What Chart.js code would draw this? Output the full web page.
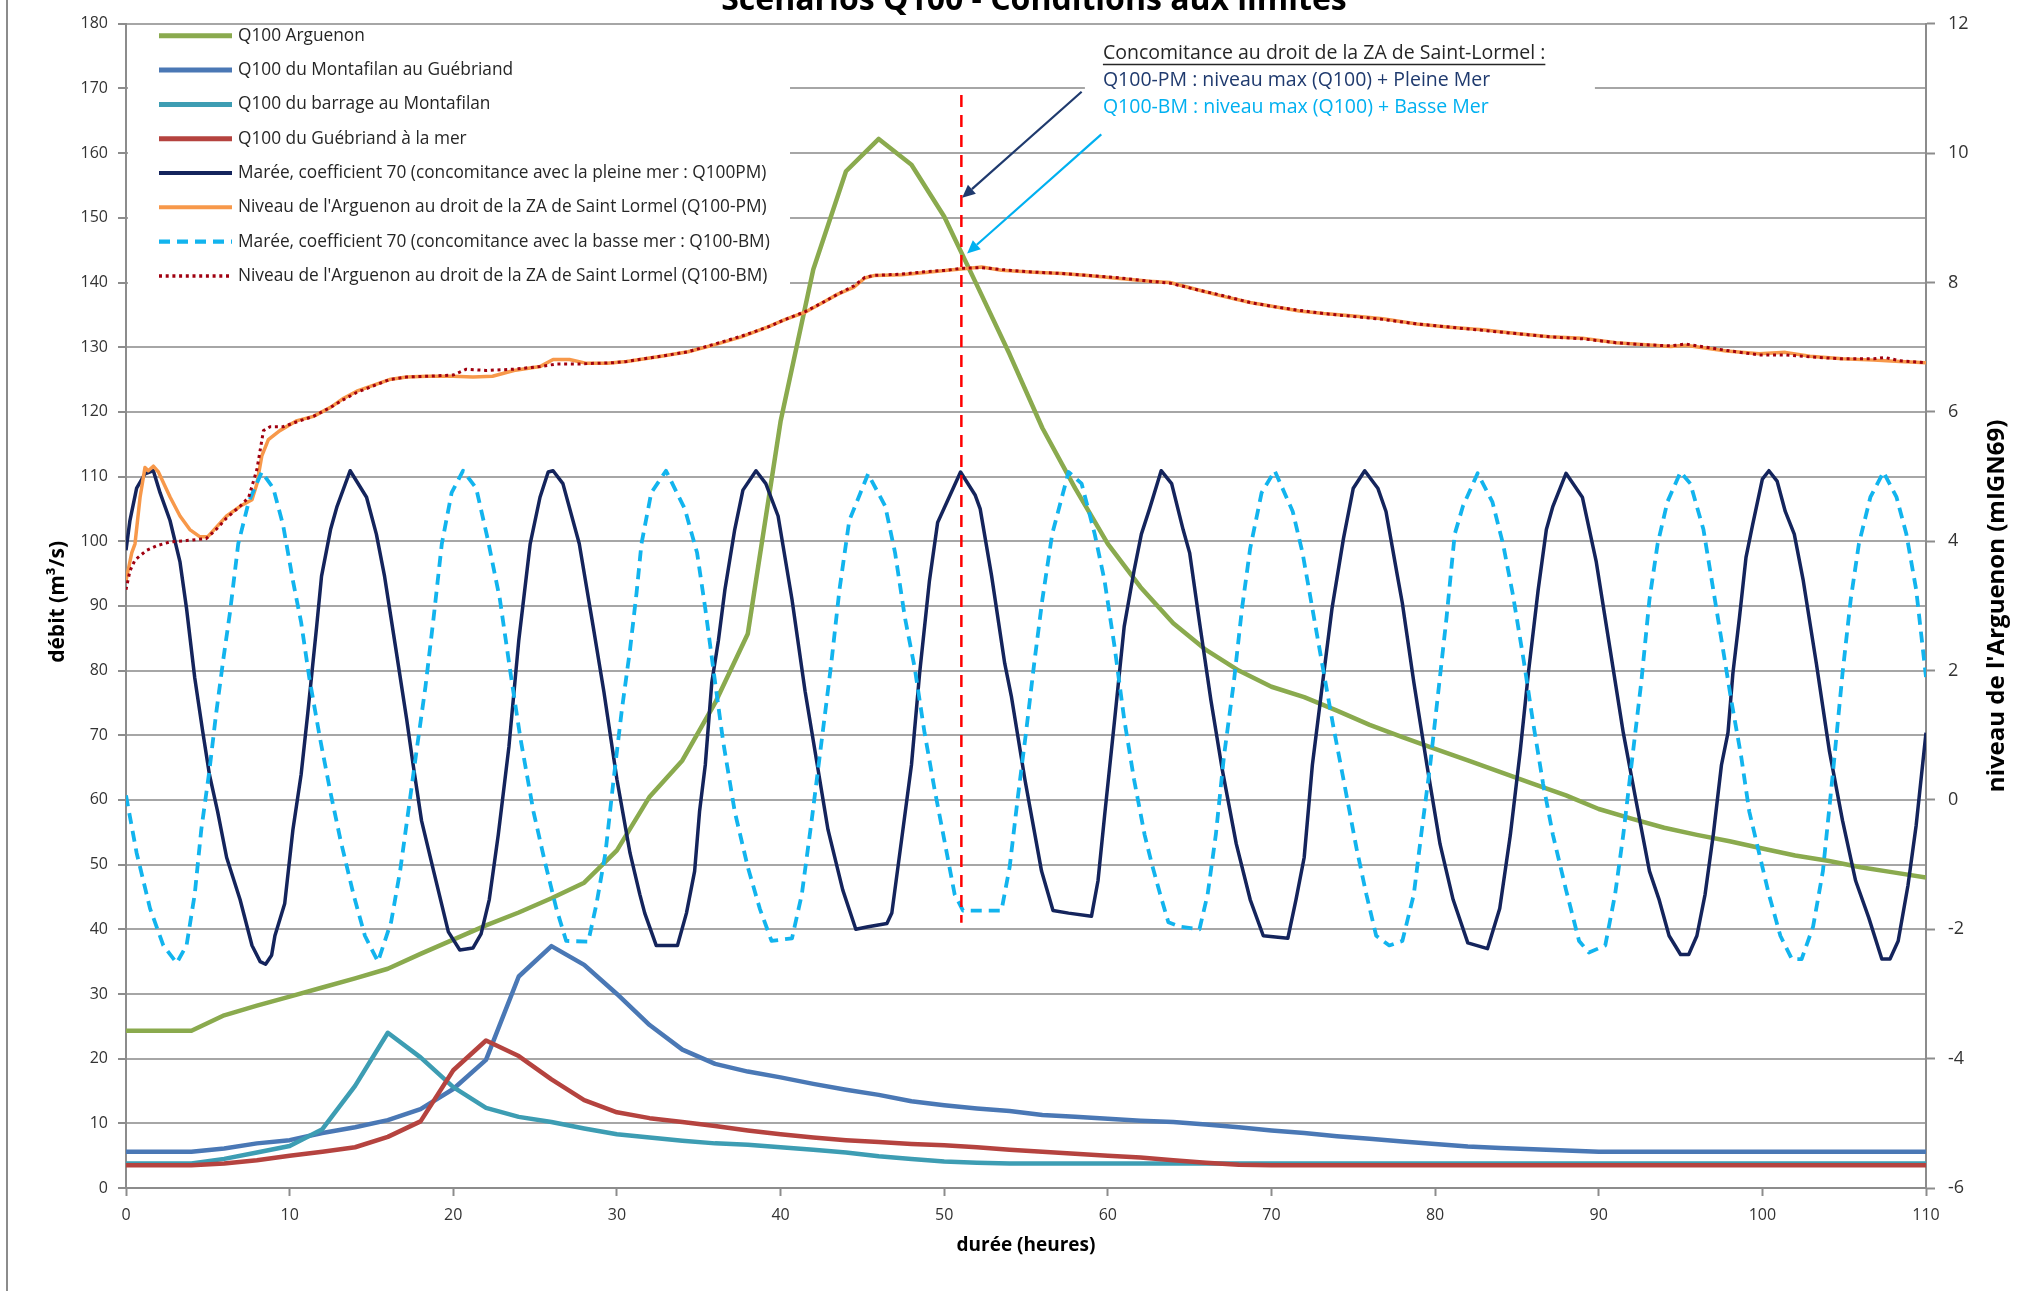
<!DOCTYPE html>
<html>
<head>
<meta charset="utf-8">
<script src="https://cdn.jsdelivr.net/npm/chart.js@4.4.1/dist/chart.umd.min.js"></script>
<style>
html,body{margin:0;padding:0;background:#fff;}
#wrap{width:2040px;height:1291px;position:relative;}
canvas{display:block;}
</style>
</head>
<body>
<div id="wrap"><canvas id="c" width="2040" height="1291"></canvas></div>
<script>
// ---------- texts ----------
const chartTitle = "Scénarios Q100 - Conditions aux limites";
const xTitle = "durée (heures)";
const yTitle = "débit (m³/s)";
const y2Title = "niveau de l'Arguenon (mIGN69)";
const annotLines = [
  "Concomitance au droit de la ZA de Saint-Lormel :",
  "Q100-PM : niveau max (Q100) + Pleine Mer",
  "Q100-BM : niveau max (Q100) + Basse Mer"
];
const seriesNames = [
  "Q100 Arguenon",
  "Q100 du Montafilan au Guébriand",
  "Q100 du barrage au Montafilan",
  "Q100 du Guébriand à la mer",
  "Marée, coefficient 70 (concomitance avec la pleine mer : Q100PM)",
  "Niveau de l'Arguenon au droit de la ZA de Saint Lormel (Q100-PM)",
  "Marée, coefficient 70 (concomitance avec la basse mer : Q100-BM)",
  "Niveau de l'Arguenon au droit de la ZA de Saint Lormel (Q100-BM)"
];

// ---------- ticks ----------
const xTickValues = [0,10,20,30,40,50,60,70,80,90,100,110];
const yTickValues = [0,10,20,30,40,50,60,70,80,90,100,110,120,130,140,150,160,170,180];
const y2TickValues = [-6,-4,-2,0,2,4,6,8,10,12];

// ---------- discharge series (left axis), every 2 h ----------
const hours = [0,2,4,6,8,10,12,14,16,18,20,22,24,26,28,30,32,34,36,38,40,42,44,46,48,50,52,54,56,58,60,62,64,66,68,70,72,74,76,78,80,82,84,86,88,90,92,94,96,98,100,102,104,106,108,110];
const qArguenon = [24.3,24.3,24.3,26.7,28.2,29.6,31.0,32.4,33.9,36.2,38.4,40.6,42.6,44.8,47.2,52.2,60.5,66.1,75.0,85.7,118.5,142.0,157.2,162.2,158.2,150.2,139.6,128.9,117.5,108.2,99.6,92.9,87.3,83.2,80.0,77.5,75.9,73.8,71.6,69.7,67.9,66.1,64.3,62.5,60.7,58.6,57.1,55.7,54.6,53.6,52.5,51.4,50.6,49.6,48.8,48.0];
const qMontafilan = [5.6,5.6,5.6,6.1,6.9,7.4,8.5,9.4,10.5,12.2,15.3,19.8,32.7,37.4,34.5,30.0,25.2,21.4,19.2,18.0,17.1,16.1,15.2,14.4,13.4,12.8,12.3,11.9,11.3,11.0,10.7,10.4,10.2,9.8,9.4,8.9,8.5,8.0,7.6,7.2,6.8,6.4,6.2,6.0,5.8,5.6,5.6,5.6,5.6,5.6,5.6,5.6,5.6,5.6,5.6,5.6];
const qBarrage = [3.8,3.8,3.8,4.5,5.5,6.5,9.1,15.8,24.0,20.2,15.6,12.4,11.0,10.2,9.2,8.3,7.8,7.3,6.9,6.7,6.3,5.9,5.5,4.9,4.5,4.1,3.9,3.8,3.8,3.8,3.8,3.8,3.8,3.8,3.8,3.8,3.8,3.8,3.8,3.8,3.8,3.8,3.8,3.8,3.8,3.8,3.8,3.8,3.8,3.8,3.8,3.8,3.8,3.8,3.8,3.8];
const qGuebriand = [3.5,3.5,3.5,3.8,4.3,5.0,5.6,6.3,7.9,10.3,18.2,22.8,20.4,16.8,13.6,11.7,10.8,10.2,9.6,8.9,8.3,7.8,7.4,7.1,6.8,6.6,6.3,5.9,5.6,5.3,5.0,4.7,4.3,3.9,3.6,3.5,3.5,3.5,3.5,3.5,3.5,3.5,3.5,3.5,3.5,3.5,3.5,3.5,3.5,3.5,3.5,3.5,3.5,3.5,3.5,3.5];

// ---------- levels (right axis), [hour, m IGN69] ----------
const tidePM = [[0,3.86],[0.24,4.32],[0.65,4.82],[1.16,5.04],[1.67,5.09],[2.08,4.75],[2.69,4.32],[3.3,3.68],[3.7,2.96],[4.2,1.89],[4.7,1.04],[5.1,0.39],[5.6,-0.18],[6.15,-0.89],[6.97,-1.54],[7.7,-2.25],[8.2,-2.5],[8.53,-2.54],[8.9,-2.4],[9.1,-2.1],[9.7,-1.6],[10.2,-0.46],[10.7,0.39],[11.1,1.32],[11.65,2.68],[11.95,3.46],[12.5,4.18],[12.9,4.54],[13.7,5.09],[14.7,4.68],[15.3,4.11],[15.8,3.46],[16.5,2.32],[17.15,1.25],[17.55,0.54],[18.06,-0.32],[18.8,-1.1],[19.7,-2.04],[20.4,-2.32],[21.2,-2.29],[21.7,-2.07],[22.2,-1.54],[22.75,-0.54],[23.4,0.82],[24.0,2.46],[24.7,3.96],[25.3,4.68],[25.8,5.07],[26.1,5.09],[26.7,4.89],[27.7,3.96],[28.55,2.68],[29.2,1.68],[30.0,0.32],[30.8,-0.82],[31.4,-1.46],[31.7,-1.75],[32.4,-2.25],[33.7,-2.25],[34.25,-1.75],[34.75,-1.1],[35.05,-0.18],[35.4,0.54],[35.8,1.82],[36.2,2.46],[36.6,3.25],[37.2,4.18],[37.7,4.79],[38.5,5.09],[39.1,4.89],[39.85,4.39],[40.7,3.1],[41.5,1.68],[42.3,0.46],[42.9,-0.46],[43.8,-1.39],[44.6,-2.0],[45.35,-1.96],[46.5,-1.91],[46.8,-1.75],[47.4,-0.61],[48.0,0.54],[48.5,1.96],[49.1,3.39],[49.6,4.29],[50.3,4.68],[51.0,5.07],[51.9,4.71],[52.2,4.5],[52.9,3.46],[53.7,2.11],[54.1,1.61],[54.93,0.32],[55.95,-1.1],[56.65,-1.71],[57.6,-1.75],[59.0,-1.8],[59.4,-1.25],[59.8,-0.25],[60.42,1.25],[61.0,2.68],[61.6,3.54],[62.05,4.11],[62.55,4.5],[63.26,5.09],[63.9,4.89],[64.6,4.18],[65.0,3.82],[65.6,2.75],[66.3,1.54],[67.0,0.46],[67.85,-0.68],[68.7,-1.54],[69.5,-2.1],[71.0,-2.14],[71.5,-1.54],[72.0,-0.89],[72.5,0.54],[73.2,1.96],[73.7,2.96],[74.4,4.04],[75.0,4.82],[75.7,5.09],[76.5,4.82],[77.0,4.46],[77.7,3.46],[78.0,3.04],[78.7,1.82],[79.5,0.54],[80.3,-0.68],[81.1,-1.54],[82.0,-2.21],[83.2,-2.3],[83.95,-1.68],[84.6,-0.54],[85.2,0.75],[85.7,1.96],[86.3,3.25],[86.8,4.18],[87.2,4.54],[88.0,5.05],[89.0,4.68],[89.85,3.68],[90.7,2.32],[91.5,1.04],[92.3,-0.04],[93.1,-1.1],[93.7,-1.55],[94.3,-2.1],[95.0,-2.39],[95.5,-2.39],[96.0,-2.1],[96.5,-1.46],[97.0,-0.54],[97.5,0.54],[97.9,1.04],[98.2,1.96],[98.6,2.82],[99.0,3.75],[99.4,4.25],[100.0,4.96],[100.4,5.09],[100.9,4.93],[101.4,4.46],[101.95,4.11],[102.5,3.39],[103.3,2.11],[104.1,0.75],[104.9,-0.32],[105.7,-1.25],[106.5,-1.82],[107.3,-2.46],[107.8,-2.46],[108.3,-2.18],[108.9,-1.32],[109.4,-0.39],[110,1.04]];

const tideBM = [[0,0.07],[0.65,-0.82],[1.47,-1.68],[2.28,-2.25],[3.1,-2.52],[3.7,-2.25],[4.2,-1.46],[4.6,-0.46],[5.1,0.46],[5.5,1.32],[5.95,2.18],[6.35,2.89],[6.86,3.96],[7.5,4.61],[8.3,5.07],[9.0,4.82],[9.6,4.25],[10.2,3.39],[10.7,2.75],[11.2,1.89],[11.85,0.96],[12.5,0.11],[13.1,-0.61],[13.9,-1.46],[14.6,-2.1],[15.4,-2.5],[16.2,-1.89],[16.75,-1.1],[17.25,-0.18],[17.75,0.75],[18.3,1.75],[18.8,2.82],[19.3,3.96],[19.9,4.75],[20.6,5.09],[21.4,4.82],[22.1,4.04],[22.85,3.1],[23.5,1.96],[24.1,0.96],[24.9,-0.18],[25.6,-0.96],[26.3,-1.68],[26.9,-2.18],[28.25,-2.19],[28.75,-1.61],[29.3,-0.82],[29.8,0.32],[30.3,1.39],[30.8,2.32],[31.2,3.2],[31.5,3.96],[32.1,4.75],[33.0,5.09],[34.15,4.5],[34.9,3.82],[35.4,2.96],[36.0,1.82],[36.5,0.89],[37.2,-0.18],[38.0,-1.04],[38.73,-1.68],[39.45,-2.18],[40.7,-2.14],[41.3,-1.46],[41.9,-0.32],[42.5,0.89],[43.1,2.11],[43.6,3.25],[44.2,4.32],[45.35,5.04],[46.4,4.54],[47.0,3.82],[47.6,2.82],[48.2,2.04],[48.8,1.04],[49.4,0.18],[50.0,-0.61],[50.64,-1.46],[51.15,-1.71],[53.5,-1.71],[54.0,-1.04],[54.5,0.04],[55.0,1.04],[55.5,2.11],[56.0,3.1],[56.6,4.11],[57.6,5.07],[58.4,4.89],[59.2,4.11],[59.8,3.39],[60.4,2.39],[61.0,1.25],[61.6,0.32],[62.25,-0.54],[62.7,-1.0],[63.2,-1.46],[63.7,-1.89],[64.4,-1.96],[65.6,-2.0],[66.1,-1.46],[66.6,-0.54],[67.1,0.68],[67.7,1.82],[68.2,2.96],[68.7,3.89],[69.4,4.75],[70.2,5.09],[71.3,4.46],[71.9,3.82],[72.5,2.96],[73.2,1.96],[73.8,1.11],[74.4,0.32],[75.2,-0.75],[75.8,-1.46],[76.4,-2.1],[77.2,-2.25],[78.0,-2.18],[78.7,-1.46],[79.15,-0.54],[79.7,0.54],[80.2,1.68],[80.7,2.82],[81.2,4.11],[81.7,4.54],[82.6,5.05],[83.5,4.61],[84.15,3.96],[84.75,3.18],[85.4,2.18],[86.0,1.18],[86.6,0.25],[87.2,-0.54],[88.0,-1.39],[88.8,-2.18],[89.4,-2.36],[90.4,-2.25],[91.0,-1.46],[91.5,-0.54],[92.0,0.54],[92.6,1.82],[93.1,3.1],[93.6,3.96],[94.2,4.61],[95.0,5.07],[95.6,4.89],[96.4,4.18],[97.0,3.25],[97.6,2.32],[98.1,1.54],[98.7,0.68],[99.2,-0.18],[99.8,-0.82],[100.4,-1.46],[101.1,-2.1],[101.8,-2.46],[102.4,-2.46],[103.1,-1.96],[103.7,-1.1],[104.3,0.39],[104.9,1.96],[105.4,3.1],[105.9,3.96],[106.6,4.68],[107.4,5.07],[108.2,4.68],[108.8,4.11],[109.4,3.25],[110,1.9]];

const levelPM = [[0,3.39],[0.35,3.82],[0.55,3.96],[0.86,4.68],[1.16,5.14],[1.36,5.09],[1.67,5.16],[1.98,5.07],[2.7,4.68],[3.3,4.39],[3.9,4.18],[4.5,4.07],[5.0,4.07],[5.5,4.21],[6.15,4.39],[6.97,4.54],[7.7,4.64],[8.0,4.89],[8.3,5.32],[8.7,5.57],[9.4,5.71],[10.4,5.86],[11.45,5.93],[12.5,6.07],[13.3,6.21],[14.1,6.32],[15.1,6.41],[16.1,6.5],[17.15,6.54],[18.4,6.55],[20.0,6.55],[21.2,6.54],[22.4,6.55],[23.7,6.64],[25.3,6.7],[26.1,6.81],[27.1,6.81],[28.15,6.75],[29.4,6.75],[30.6,6.78],[32.7,6.86],[34.35,6.93],[36.0,7.04],[37.6,7.16],[39.2,7.31],[40.3,7.43],[41.5,7.54],[42.5,7.68],[43.5,7.82],[44.5,7.93],[45.15,8.07],[45.75,8.11],[47.4,8.12],[49.0,8.16],[50.2,8.19],[51.05,8.21],[52.3,8.24],[53.5,8.19],[55.5,8.16],[57.2,8.14],[58.8,8.11],[60.4,8.07],[62.55,8.02],[63.8,8.0],[65.6,7.88],[67.0,7.79],[68.7,7.69],[70.3,7.62],[71.7,7.56],[73.2,7.52],[75.2,7.48],[76.8,7.44],[78.9,7.36],[80.9,7.31],[82.9,7.27],[84.95,7.21],[87.0,7.16],[89.0,7.14],[91.05,7.07],[92.65,7.04],[94.4,7.01],[95.3,7.03],[97.8,6.94],[99.8,6.9],[101.4,6.92],[102.9,6.86],[104.9,6.82],[106.8,6.8],[108.4,6.78],[110,6.76]];

const levelBM = [[0,3.25],[0.24,3.54],[0.55,3.71],[1.26,3.86],[1.87,3.93],[2.7,3.99],[3.7,4.01],[4.9,4.04],[5.5,4.18],[6.15,4.36],[6.97,4.54],[7.5,4.68],[8.0,5.11],[8.4,5.71],[8.8,5.77],[9.6,5.77],[10.6,5.86],[11.45,5.93],[12.5,6.07],[13.3,6.19],[14.1,6.3],[15.1,6.4],[16.1,6.5],[17.15,6.54],[18.4,6.55],[20.0,6.57],[20.8,6.66],[22.0,6.64],[23.7,6.66],[25.3,6.7],[26.3,6.74],[27.6,6.74],[28.6,6.75],[29.8,6.76],[30.6,6.78],[32.7,6.86],[34.35,6.93],[36.0,7.05],[37.6,7.17],[39.2,7.31],[40.3,7.43],[41.5,7.55],[42.5,7.68],[43.5,7.82],[44.5,7.95],[45.15,8.08],[45.75,8.11],[47.4,8.13],[49.0,8.17],[50.2,8.19],[51.05,8.22],[52.3,8.23],[53.5,8.2],[55.5,8.16],[57.2,8.14],[58.8,8.11],[60.4,8.08],[62.55,8.02],[63.8,7.99],[65.6,7.88],[67.0,7.8],[68.7,7.69],[70.3,7.62],[71.7,7.57],[73.2,7.52],[75.2,7.47],[76.8,7.43],[78.9,7.36],[80.9,7.31],[82.9,7.26],[84.95,7.21],[87.0,7.16],[89.0,7.13],[91.05,7.07],[92.65,7.04],[94.4,7.02],[95.3,7.05],[97.8,6.95],[99.8,6.88],[101.4,6.88],[102.9,6.85],[104.9,6.82],[106.8,6.82],[107.5,6.84],[108.4,6.79],[110,6.76]];

// ---------- annotation marks (data units: hour, left-axis value) ----------
const markerLine = [[51.05,169],[51.05,41]];
const arrowPM = [[58.4,169.5],[51.1,153.1]];
const arrowBM = [[59.6,162.9],[51.4,144.5]];
const annotAnchor = [59.7, 175.4];
const annotStep = 4.15;

// ---------- build ----------
const toXY = arr => arr.map(p => ({x:p[0], y:p[1]}));
const fromHours = vals => vals.map((v,i) => ({x:hours[i], y:v}));

const C = {
  green:'#8AAA4E', blue:'#4A78B5', teal:'#3D9DB3', red:'#B5433F',
  navy:'#14245C', orange:'#F7984A', cyan:'#12B4EE', dred:'#A00010', grid:'#A6A6A6', text:'#333333'
};

const datasets = [
  {label:seriesNames[0], data:fromHours(qArguenon), yAxisID:'y', borderColor:C.green, borderWidth:4.5, order:8},
  {label:seriesNames[1], data:fromHours(qMontafilan), yAxisID:'y', borderColor:C.blue, borderWidth:4.5, order:7},
  {label:seriesNames[2], data:fromHours(qBarrage), yAxisID:'y', borderColor:C.teal, borderWidth:4.5, order:6},
  {label:seriesNames[3], data:fromHours(qGuebriand), yAxisID:'y', borderColor:C.red, borderWidth:4.5, order:5},
  {label:seriesNames[4], data:toXY(tidePM), yAxisID:'y2', borderColor:C.navy, borderWidth:3.5, order:4},
  {label:seriesNames[5], data:toXY(levelPM), yAxisID:'y2', borderColor:C.orange, borderWidth:3.5, order:3},
  {label:seriesNames[6], data:toXY(tideBM), yAxisID:'y2', borderColor:C.cyan, borderWidth:3.8, borderDash:[11,7], order:2},
  {label:seriesNames[7], data:toXY(levelBM), yAxisID:'y2', borderColor:C.dred, borderWidth:3, borderDash:[3,3.7], order:1},
  {label:'', data:toXY(markerLine), yAxisID:'y', borderColor:'#FF0000', borderWidth:2.5, borderDash:[12,8], order:0, noLegend:true}
];
datasets.forEach(d => { d.fill=false; d.pointRadius=0; d.pointHoverRadius=0; d.tension=0; d.borderJoinStyle='round'; });

function arrow(ctx, x1, y1, x2, y2, color){
  ctx.save();
  ctx.strokeStyle=color; ctx.fillStyle=color; ctx.lineWidth=2.2;
  const a=Math.atan2(y2-y1,x2-x1), L=13, W=6;
  const bx=x2-L*Math.cos(a), by=y2-L*Math.sin(a);
  ctx.beginPath(); ctx.moveTo(x1,y1); ctx.lineTo(bx,by); ctx.stroke();
  ctx.beginPath(); ctx.moveTo(x2,y2);
  ctx.lineTo(bx+W*Math.sin(a), by-W*Math.cos(a));
  ctx.lineTo(bx-W*Math.sin(a), by+W*Math.cos(a));
  ctx.closePath(); ctx.fill();
  ctx.restore();
}

const extras = {
  id:'extras',
  beforeDatasetsDraw(chart){
    const ctx=chart.ctx, a=chart.chartArea;
    ctx.save();
    ctx.fillStyle='#fff';
    ctx.fillRect(a.left+2, a.top+3, 662, 275);
    const xs=chart.scales.x;
    ctx.fillRect(xs.getPixelForValue(annotAnchor[0])-18, a.top+22, 510, 84);
    ctx.restore();
  },
  afterDraw(chart){
    const ctx=chart.ctx, a=chart.chartArea, xs=chart.scales.x, ys=chart.scales.y;
    ctx.save();
    ctx.strokeStyle='#8c8c8c'; ctx.lineWidth=2;
    ctx.beginPath(); ctx.moveTo(7,0); ctx.lineTo(7,chart.height); ctx.stroke();

    // title (partly cut at the top, as in the reference)
    ctx.fillStyle='#000';
    ctx.font="bold 32px 'Open Sans'";
    ctx.textAlign='center'; ctx.textBaseline='alphabetic';
    ctx.fillText(chartTitle, (a.left+a.right)/2+8, 10);

    // axis titles
    ctx.fillStyle='#000';
    ctx.font="bold 19px 'Open Sans'";
    ctx.textBaseline='middle';
    ctx.fillText(xTitle, (a.left+a.right)/2, 1246);
    ctx.save(); ctx.font="bold 21px 'Open Sans'";
    ctx.translate(58,(a.top+a.bottom)/2-4); ctx.rotate(-Math.PI/2);
    ctx.fillText(yTitle,0,0); ctx.restore();
    ctx.save(); ctx.font="bold 24px 'Open Sans'";
    ctx.translate(1997,(a.top+a.bottom)/2); ctx.rotate(-Math.PI/2);
    ctx.fillText(y2Title,0,0); ctx.restore();

    // legend
    ctx.font="17.3px 'Open Sans'"; ctx.textAlign='left'; ctx.textBaseline='middle';
    let row=0;
    chart.data.datasets.forEach(d=>{
      if(d.noLegend) return;
      const y=a.top+12+row*34.3;
      ctx.save();
      ctx.strokeStyle=d.borderColor; ctx.lineWidth=d.borderWidth+0.5;
      ctx.setLineDash(d.borderDash||[]);
      ctx.beginPath(); ctx.moveTo(a.left+33,y); ctx.lineTo(a.left+106,y); ctx.stroke();
      ctx.restore();
      ctx.fillStyle='#262626';
      ctx.fillText(d.label, a.left+112, y);
      row++;
    });

    // annotation text
    const ax=xs.getPixelForValue(annotAnchor[0]);
    const colors=['#262626','#1F3A6E','#00B0F0'];
    ctx.font="19.5px 'Open Sans'";
    annotLines.forEach((t,i)=>{
      const y=ys.getPixelForValue(annotAnchor[1]-i*annotStep);
      ctx.fillStyle=colors[i];
      ctx.fillText(t, ax, y);
      if(i===0){
        const w=ctx.measureText(t).width;
        ctx.strokeStyle=colors[0]; ctx.lineWidth=1.4;
        ctx.beginPath(); ctx.moveTo(ax,y+11); ctx.lineTo(ax+w,y+11); ctx.stroke();
      }
    });
    arrow(ctx, xs.getPixelForValue(arrowPM[0][0]), ys.getPixelForValue(arrowPM[0][1]),
               xs.getPixelForValue(arrowPM[1][0]), ys.getPixelForValue(arrowPM[1][1]), '#1F3A6E');
    arrow(ctx, xs.getPixelForValue(arrowBM[0][0]), ys.getPixelForValue(arrowBM[0][1]),
               xs.getPixelForValue(arrowBM[1][0]), ys.getPixelForValue(arrowBM[1][1]), '#00B0F0');
    ctx.restore();
  }
};

Chart.defaults.font.family = "'Open Sans', sans-serif";
Chart.defaults.color = C.text;

new Chart(document.getElementById('c'), {
  type:'line',
  data:{datasets},
  options:{
    responsive:false, devicePixelRatio:1, animation:false,
    layout:{padding:{top:17,left:0,right:0,bottom:0}},
    plugins:{legend:{display:false}, title:{display:false}, tooltip:{enabled:false}},
    scales:{
      x:{
        type:'linear', min:0, max:110,
        afterBuildTicks:s=>{ s.ticks = xTickValues.map(v=>({value:v})); },
        afterFit:s=>{ s.height = 103; },
        grid:{drawOnChartArea:false, drawTicks:true, tickLength:8, tickColor:'#8c8c8c', tickWidth:2},
        border:{display:true, color:'#8c8c8c', width:2},
        ticks:{font:{size:16}, padding:10, color:C.text, maxRotation:0}
      },
      y:{
        type:'linear', position:'left', min:0, max:180,
        afterBuildTicks:s=>{ s.ticks = yTickValues.map(v=>({value:v})); },
        afterFit:s=>{ s.width = 126; },
        grid:{color:C.grid, lineWidth:2, drawTicks:true, tickLength:8, tickColor:'#8c8c8c', tickWidth:2},
        border:{display:true, color:'#8c8c8c', width:2},
        ticks:{font:{size:16}, padding:10, color:C.text}
      },
      y2:{
        type:'linear', position:'right', min:-6, max:12,
        afterBuildTicks:s=>{ s.ticks = y2TickValues.map(v=>({value:v})); },
        afterFit:s=>{ s.width = 114; },
        grid:{drawOnChartArea:false, drawTicks:true, tickLength:9, tickColor:'#8c8c8c', tickWidth:2},
        border:{display:true, color:'#8c8c8c', width:2},
        ticks:{font:{size:18}, padding:13, color:C.text}
      }
    }
  },
  plugins:[extras]
});
</script>
</body>
</html>
